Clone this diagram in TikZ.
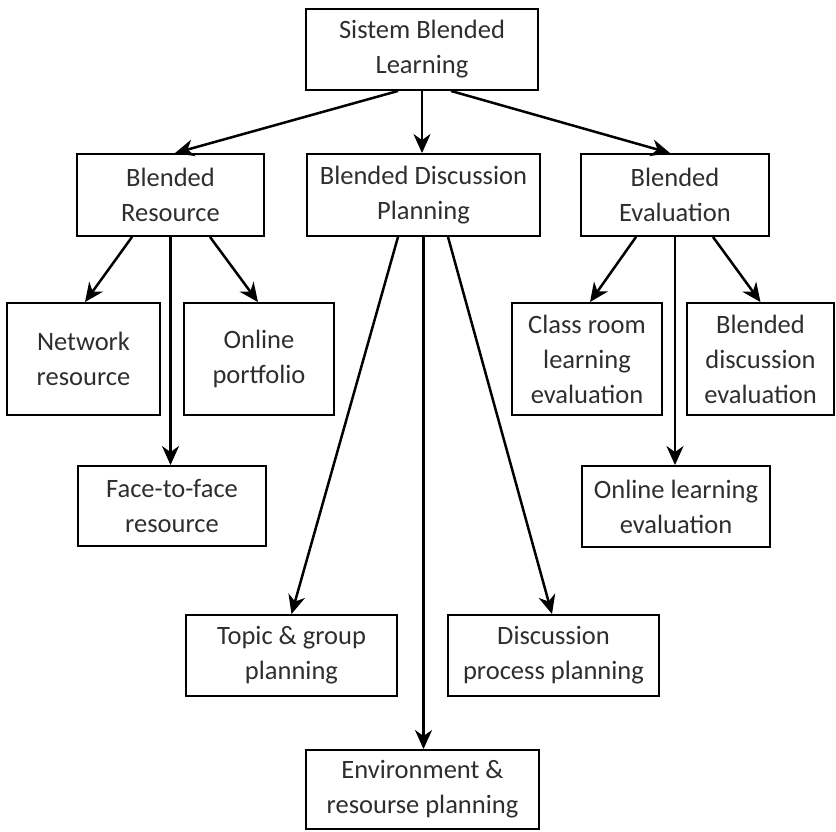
\documentclass[tikz,border=0pt]{standalone}
\usepackage{fontspec}
\setmainfont{Carlito}
\usetikzlibrary{arrows.meta}
\begin{document}
\begin{tikzpicture}[x=1pt,y=-1pt,
  box/.style={draw, line width=1.9pt, align=center, inner sep=0pt,
    text=black!82, font=\fontsize{26.5}{35}\selectfont},
  link/.style={line width=2.5pt, -{Stealth[length=19pt,width=17pt,inset=6pt]}}]
  \useasboundingbox (0,0) rectangle (836,831);
  % root
  \node[box, minimum width=232pt, minimum height=81pt] (root) at (422,49.5) {Sistem Blended\\Learning};
  % second level
  \node[box, minimum width=187pt, minimum height=82pt] (res) at (170.5,195) {Blended\\Resource};
  \node[box, minimum width=233pt, minimum height=82pt] (plan) at (423.5,195) {Blended Discussion\\Planning};
  \node[box, minimum width=188pt, minimum height=82pt] (eval) at (675,195) {Blended\\Evaluation};
  % resource branch
  \node[box, minimum width=153pt, minimum height=112pt] (net) at (83.5,359) {Network\\resource};
  \node[box, minimum width=150pt, minimum height=112pt] (port) at (259,359) {Online\\portfolio};
  \node[box, minimum width=188pt, minimum height=80pt] (f2f) at (172,506) {Face-to-face\\resource};
  % evaluation branch
  \node[box, minimum width=150pt, minimum height=112pt] (cls) at (587,359) {Class room\\learning\\evaluation};
  \node[box, minimum width=147pt, minimum height=112pt] (bde) at (760.5,359) {Blended\\discussion\\evaluation};
  \node[box, minimum width=188pt, minimum height=81pt] (ole) at (676,506.5) {Online learning\\evaluation};
  % planning branch
  \node[box, minimum width=211pt, minimum height=81pt] (topic) at (291.5,655.5) {Topic \& group\\planning};
  \node[box, minimum width=211pt, minimum height=81pt] (dpp) at (553.5,655.5) {Discussion\\process planning};
  \node[box, minimum width=233pt, minimum height=79pt] (env) at (422.5,789.5) {Environment \&\\resourse planning};
  % connectors
  \draw[link] ([xshift=-24pt]root.south) -- ([xshift=4.5pt]res.north);
  \draw[link] (root.south) -- (root.south |- plan.north);
  \draw[link] ([xshift=29pt]root.south) -- ([xshift=-5pt]eval.north);
  \draw[link] ([xshift=-38.5pt]res.south) -- ([xshift=1.5pt]net.north);
  \draw[link] ([xshift=39.5pt]res.south) -- ([xshift=-1pt]port.north);
  \draw[link] (res.south) -- (res.south |- f2f.north);
  \draw[link] ([xshift=-25.5pt]plan.south) -- (topic.north);
  \draw[link] ([xshift=24.5pt]plan.south) -- ([xshift=-1.5pt]dpp.north);
  \draw[link] (plan.south) -- (plan.south |- env.north);
  \draw[link] ([xshift=-39pt]eval.south) -- ([xshift=3pt]cls.north);
  \draw[link] ([xshift=38pt]eval.south) -- (bde.north);
  \draw[link] (eval.south) -- (eval.south |- ole.north);
\end{tikzpicture}
\end{document}
